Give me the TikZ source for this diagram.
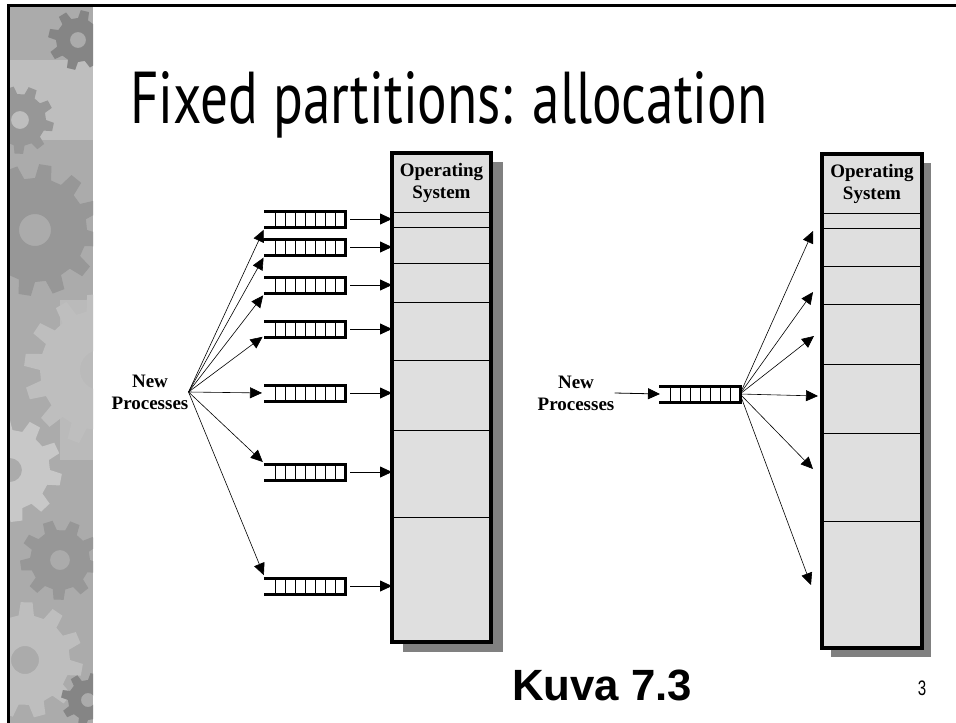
\documentclass[tikz,border=0pt]{standalone}
\usepackage{fontspec}
\usepackage{graphicx}
\setmainfont{Liberation Serif}
\newfontfamily\titlefont{PT Sans}
\newfontfamily\capfont{Liberation Sans}
\usetikzlibrary{arrows.meta,calc}

\definecolor{memfill}{HTML}{DFDFDF}
\definecolor{memshadow}{HTML}{808080}
\definecolor{stripbase}{HTML}{ABABAB}
\definecolor{gearA}{HTML}{979797}
\definecolor{gearB}{HTML}{BEBEBE}
\definecolor{gearC}{HTML}{858585}
\definecolor{gearD}{HTML}{C8C8C8}

% cog wheel: centre x, centre y, inner radius, outer radius, teeth, colour, hole radius
\newcommand{\cogat}[7]{%
  \begin{scope}[shift={(#1,#2)}]
    \pgfmathsetmacro\cogstep{360/#5}
    \pgfmathtruncatemacro\coglast{#5-1}
    \fill[#6, even odd rule] (0:#3)
      \foreach \k in {0,...,\coglast}{
        -- (\k*\cogstep:#3)
        -- (\k*\cogstep+0.12*\cogstep:#4)
        -- (\k*\cogstep+0.48*\cogstep:#4)
        -- (\k*\cogstep+0.6*\cogstep:#3)
      } -- cycle
      (0,0) circle[radius=#7];
  \end{scope}}

% ladder-like queue drawn on an empty node
\newcommand{\queuedraw}[1]{%
  \draw[qedge] (#1.north west) -- (#1.north east) -- (#1.south east) -- (#1.south west);
  \foreach \k in {1,...,7}
    \draw[qrung] ($(#1.north west)!\k/8!(#1.north east)$) -- ($(#1.south west)!\k/8!(#1.south east)$);}

\begin{document}
\begin{tikzpicture}[x=1pt,y=-1pt,
  qnode/.style={minimum width=80pt, minimum height=16pt, inner sep=0pt, outer sep=0pt},
  qedge/.style={line width=3pt, line cap=rect},
  qrung/.style={line width=0.9pt},
  membox/.style={draw, line width=3.5pt, fill=memfill, inner sep=0pt, outer sep=0pt},
  partline/.style={line width=1pt},
  lbl/.style={font=\fontsize{19}{22}\selectfont\bfseries, align=center, inner sep=0pt},
  arr/.style={line width=0.8pt, -{Triangle[length=12pt,width=11pt]}},
  fan/.style={line width=0.6pt, -{Triangle[length=12pt,width=11pt]}}
]
\useasboundingbox (0,0) rectangle (956,723);
\fill[white] (0,0) rectangle (956,723);

% decorative strip with faded cog wheels
\begin{scope}
  \clip (9,5) rectangle (93,723);
  \fill[stripbase] (9,5) rectangle (93,723);
  \fill[gearB] (9,60) rectangle (93,140);
  \fill[gearB!80!stripbase] (60,300) rectangle (93,460);
  \cogat{78}{40}{22}{30}{8}{gearC}{8}
  \cogat{20}{120}{26}{34}{9}{gearA}{9}
  \cogat{35}{230}{52}{66}{12}{gearA}{16}
  \cogat{100}{370}{60}{76}{14}{gearB}{20}
  \cogat{10}{470}{40}{52}{10}{gearD}{12}
  \cogat{60}{560}{30}{40}{9}{gearA}{10}
  \cogat{25}{660}{45}{58}{11}{gearB}{14}
  \cogat{88}{700}{20}{27}{8}{gearC}{7}
\end{scope}
\draw[line width=3pt] (8.5,723) -- (8.5,5.5) -- (956,5.5);

% title
\node[anchor=base west, inner sep=0pt] (title) at (130,123)
  {\resizebox{637pt}{52pt}{\titlefont Fixed partitions: allocation}};

% ---------- left: one queue per partition ----------
\fill[memshadow] (403,162) rectangle (503,652);
\node[membox, minimum width=99pt, minimum height=489pt] (memL) at (441.5,397.5) {};
\foreach \yy in {212,227,263,302,360,430,517}
  \draw[partline] (392,\yy) -- (491,\yy);
\node[lbl] (osL) at (441.5,183) {Operating\\System};

\node[lbl] (npL) at (150,392) {New\\Processes};

\foreach \n/\yy in {1/219,2/247,3/285,4/329,5/393,6/472,7/586}{
  \node[qnode] (q\n) at (305,\yy) {};
  \queuedraw{q\n}
  \draw[arr] ([xshift=5pt]q\n.east) -- (q\n.east -| memL.west);
}

\draw[fan, shorten >=3pt] (npL.east) -- (q1.south west);
\draw[fan, shorten >=3pt] (npL.east) -- (q2.south west);
\draw[fan, shorten >=3pt] (npL.east) -- (q3.south west);
\draw[fan, shorten >=3pt] (npL.east) -- ([yshift=-6pt]q4.west);
\draw[fan, shorten >=3pt] (npL.east) -- (q5.west);
\draw[fan, shorten >=3pt] (npL.east) -- (q6.north west);
\draw[fan, shorten >=3pt] (npL.east) -- (q7.north west);

% ---------- right: one shared queue ----------
\fill[memshadow] (831,163) rectangle (931,657);
\node[membox, minimum width=100pt, minimum height=494pt] (memR) at (872,401) {};
\foreach \yy in {213,228,266,304,364,433,521}
  \draw[partline] (822,\yy) -- (922,\yy);
\node[lbl] (osR) at (872,184) {Operating\\System};

\node[lbl] (npR) at (576,393) {New\\Processes};
\node[qnode] (qR) at (700,394) {};
\queuedraw{qR}
\draw[arr] (npR.east) -- (qR.west);

\coordinate (t1) at (813,231);
\coordinate (t2) at (813,292);
\coordinate (t3) at (814,336);
\coordinate (t4) at (818,396);
\coordinate (t5) at (813,469);
\coordinate (t6) at (811,585);
\foreach \t in {t1,t2,t3,t4,t5,t6}
  \draw[fan] (qR.east) -- (\t);

% caption and page number
\node[anchor=base west, inner sep=0pt] (cap) at (512,700)
  {\resizebox{180pt}{!}{\capfont\bfseries Kuva 7.3}};
\node[inner sep=0pt] (pg) at (922,688)
  {\scalebox{0.72}[1]{\capfont\fontsize{21}{21}\selectfont 3}};
\end{tikzpicture}
\end{document}
